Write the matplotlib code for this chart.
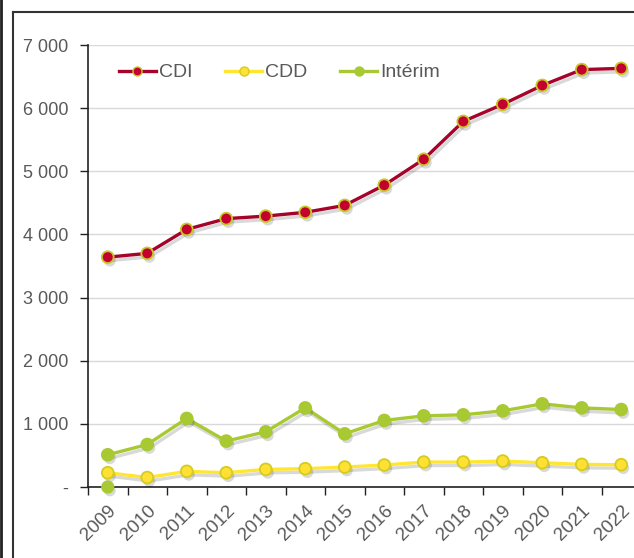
import matplotlib
matplotlib.use("Agg")
import matplotlib.pyplot as plt
import matplotlib.patheffects as pe
from matplotlib.lines import Line2D

years = ["2009", "2010", "2011", "2012", "2013", "2014", "2015",
         "2016", "2017", "2018", "2019", "2020", "2021", "2022"]
cdi = [3640, 3700, 4080, 4250, 4290, 4350, 4460, 4780, 5190, 5790, 6060, 6360, 6610, 6630]
cdd = [226, 150, 248, 226, 279, 290, 316, 348, 395, 395, 411, 384, 358, 353]
interim = [510, 673, 1086, 727, 874, 1253, 842, 1054, 1127, 1143, 1206, 1317, 1253, 1227]
interim_extra_x = ["2009"]
interim_extra_y = [0]
yticks = [0, 1000, 2000, 3000, 4000, 5000, 6000, 7000]
ytick_labels = ["-", "1 000", "2 000", "3 000", "4 000", "5 000", "6 000", "7 000"]

plt.rcParams['font.family'] = ['Liberation Sans', 'DejaVu Sans']
W, H = 634, 558
fig = plt.figure(figsize=(W / 100, H / 100), dpi=100)
ax = fig.add_axes([88 / W, (H - 487) / H, (641 - 88) / W, (487 - 45) / H])

x = list(range(len(years)))
xi = [years.index(v) for v in interim_extra_x]

shadow_line = [pe.SimpleLineShadow(offset=(1.5, -2.5), shadow_color='k', alpha=0.15), pe.Normal()]
shadow_mk = [pe.SimplePatchShadow(offset=(1.5, -2.5), shadow_rgbFace='k', alpha=0.15), pe.Normal()]

series = [
    ("CDI", cdi, "#A6032A", "#C4002F", "#C8C828"),
    ("CDD", cdd, "#FFE633", "#FFE033", "#D4CC20"),
    ("Intérim", interim, "#A8C932", "#A8C932", "#A8C932"),
]
for name, vals, lc, mf, me in series:
    ax.plot(x, vals, color=lc, lw=2.4, zorder=3, path_effects=shadow_line)
    ax.plot(x, vals, ls='none', marker='o', ms=8.5, mfc=mf, mec=me, mew=1.3,
            zorder=4, path_effects=shadow_mk)
ax.plot(xi, interim_extra_y, ls='none', marker='o', ms=8.5, mfc="#A8C932", mec="#A8C932",
        zorder=4, clip_on=False, path_effects=shadow_mk)

handles = [Line2D([], [], color=lc, lw=2.4, marker='o', ms=6.5, mfc=mf, mec=me, mew=1)
           for _, _, lc, mf, me in series]
ax.legend(handles, [s[0] for s in series], ncol=3, frameon=False, loc='upper left',
          bbox_to_anchor=(0.024, 0.997), fontsize=14, labelcolor='#595959',
          handlelength=1.9, handletextpad=0.15, columnspacing=1.7)

ax.set_xlim(-0.5, len(years) - 0.5)
ax.set_ylim(0, 7000)
ax.set_yticks(yticks)
ax.set_yticklabels(ytick_labels)
ax.set_xticks(x)
ax.set_xticklabels(years, rotation=45, ha='right', va='top', rotation_mode='anchor')
ax.set_xticks([i - 0.5 for i in range(len(years) + 1)], minor=True)
ax.tick_params(axis='x', which='major', length=0, pad=11, labelsize=13.5, labelcolor='#595959')
ax.tick_params(axis='x', which='minor', length=6, width=1, direction='out', color='#222222')
ax.tick_params(axis='y', length=6, width=1, direction='out', color='#222222',
               labelsize=13, labelcolor='#595959', pad=8)
ax.grid(axis='y', color='#D9D9D9', lw=1)
ax.set_axisbelow(True)
for s in ['top', 'right']:
    ax.spines[s].set_visible(False)
for s in ['left', 'bottom']:
    ax.spines[s].set_color('#222222')
    ax.spines[s].set_linewidth(1.2)

# figure border lines
def px_line(x0, y0, x1, y1, c, lw):
    fig.add_artist(Line2D([x0 / W, x1 / W], [1 - y0 / H, 1 - y1 / H], color=c, lw=lw,
                          transform=fig.transFigure))
px_line(13, 12, W, 12, '#333333', 1.5)
px_line(13, 12, 13, H, '#333333', 1.5)
px_line(1, 0, 1, H, '#222222', 2)

fig.savefig("out.png", dpi=100)
